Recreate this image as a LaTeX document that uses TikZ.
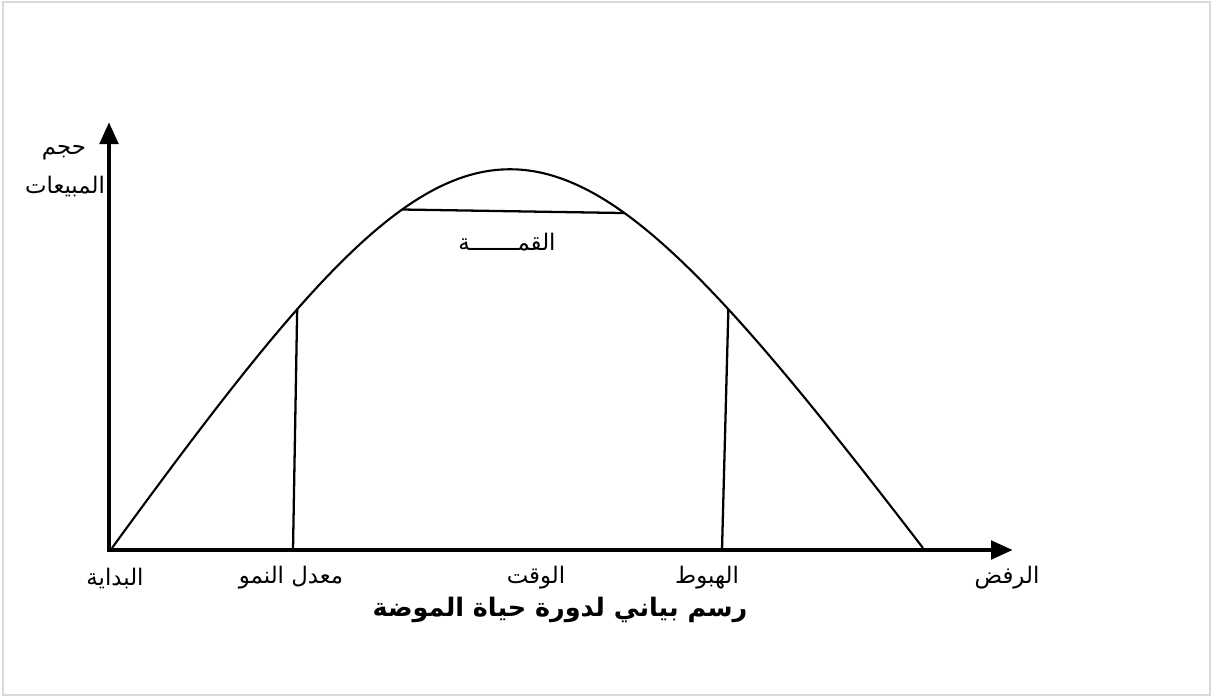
\documentclass[tikz,border=0pt]{standalone}
\usepackage{fontspec}
\newfontfamily\arabicfont[Script=Arabic]{DejaVu Sans}
\TeXXeTstate=1
\usetikzlibrary{arrows.meta}
\definecolor{ChartInk}{HTML}{000000}
\definecolor{FrameGray}{HTML}{D9D9D9}
\tikzset{
  axisline/.style={line width=2.8pt, ChartInk, line join=miter,
                   {Triangle[length=0.44cm,width=0.36cm]}-{Triangle[length=0.44cm,width=0.36cm]}},
  curveline/.style={line width=1.2pt, ChartInk},
  markline/.style={line width=1.3pt, ChartInk},
  axislabel/.style={font=\arabicfont\fontsize{13}{15}\selectfont, ChartInk, inner sep=0pt},
  figtitle/.style={font=\arabicfont\bfseries\fontsize{14.5}{17}\selectfont, ChartInk, inner sep=0pt},
}

\begin{document}
\begin{tikzpicture}[x=0.02cm, y=-0.02cm]

  \useasboundingbox (0,0) rectangle (1215,698);
  \draw[FrameGray, line width=1.2pt] (3,2) rectangle (1210,695);

  % axes
  \coordinate (origin) at (109,550);
  \coordinate (ytip) at (109,122);
  \coordinate (xtip) at (1013,550);
  \draw[axisline] (ytip) -- (origin) -- (xtip);

  % life cycle curve
  \coordinate (cStart) at (112,548);
  \coordinate (cEnd) at (923,548);
  \draw[curveline] (cStart) .. controls (480,43) and (535,43) .. (cEnd)
    coordinate[pos=0.196] (growTop)
    coordinate[pos=0.337] (peakL)
    coordinate[pos=0.67] (peakR)
    coordinate[pos=0.804] (fallTop);

  \coordinate (growBot) at (293,550);
  \coordinate (fallBot) at (722,550);
  \draw[markline] (growBot) -- (growTop);
  \draw[markline] (fallBot) -- (fallTop);
  \draw[markline] (peakL) -- (peakR);

  % labels
  \node[axislabel] (salesTop) at (64,153) {\beginR حجم\endR};
  \node[axislabel] (salesBot) at (65,186) {\beginR المبيعات\endR};
  \node[axislabel] (peakLbl) at (507,242) {\beginR القمـــــــة\endR};
  \node[axislabel] (startLbl) at (115,578) {\beginR البداية\endR};
  \node[axislabel] (growLbl) at (291,578) {\beginR معدل النمو\endR};
  \node[axislabel] (timeLbl) at (536,578) {\beginR الوقت\endR};
  \node[axislabel] (fallLbl) at (707,578) {\beginR الهبوط\endR};
  \node[axislabel] (rejectLbl) at (1007,578) {\beginR الرفض\endR};
  \node[figtitle] (title) at (560,610) {\beginR رسم بياني لدورة حياة الموضة\endR};

\end{tikzpicture}
\end{document}
